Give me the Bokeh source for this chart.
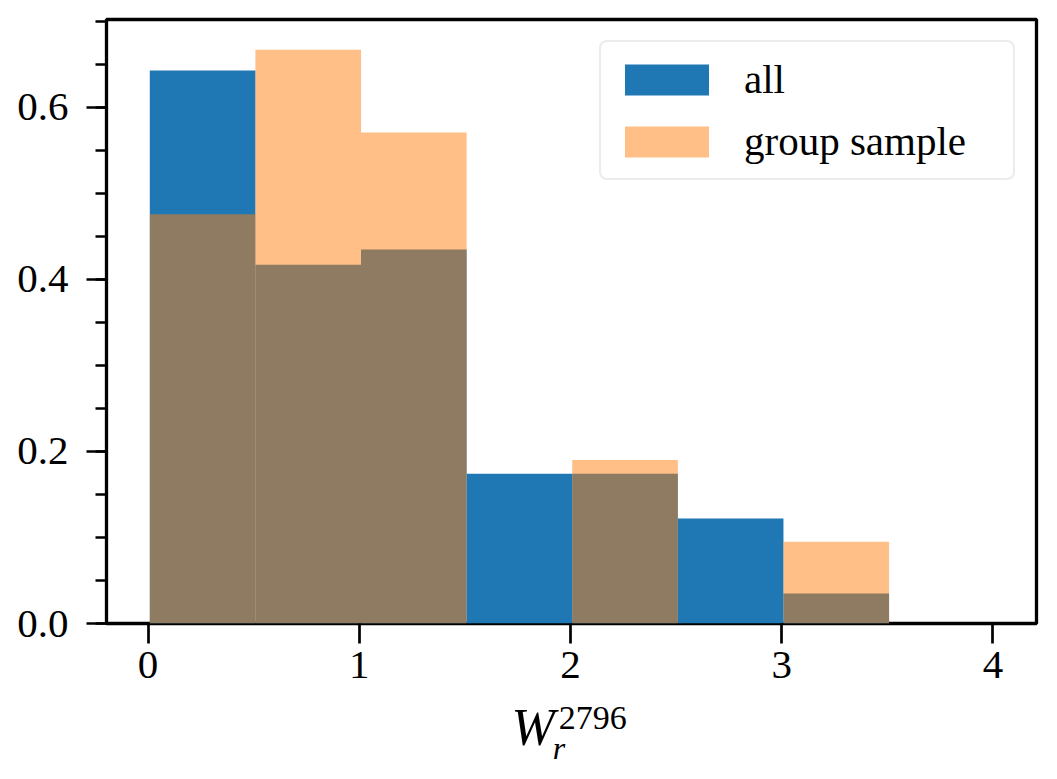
from bokeh.plotting import figure
from bokeh.layouts import column
from bokeh.models import (Range1d, Legend, LegendItem, FixedTicker,
                          SingleIntervalTicker, PrintfTickFormatter, ColumnDataSource)
from bokeh.core.properties import value
from bokeh.embed import file_html
from bokeh.resources import INLINE

# ---- data (density-normalised) ----
bin_edges = [0.008, 0.508, 1.008, 1.508, 2.008, 2.508, 3.008, 3.508]
all_density = [0.643, 0.417, 0.435, 0.174, 0.174, 0.122, 0.035]
group_density = [0.476, 0.667, 0.571, 0.0, 0.190, 0.0, 0.095]
x_ticks = [0, 1, 2, 3, 4]
series_labels = ["all", "group sample"]

FONT = "Liberation Serif"
FS = "41px"
X_RANGE = (-0.197, 4.206)
MAIN_H = 697
TOTAL_H = 771

p = figure(width=1049, height=MAIN_H, output_backend="svg", toolbar_location=None,
           title=None,
           x_range=Range1d(*X_RANGE), y_range=Range1d(0, 0.7023),
           min_border_left=106, min_border_right=13, min_border_top=19,
           min_border_bottom=MAIN_H - 623)

src_all = ColumnDataSource(dict(left=bin_edges[:-1], right=bin_edges[1:],
                                top=all_density, bottom=[0] * len(all_density)))
src_grp = ColumnDataSource(dict(left=bin_edges[:-1], right=bin_edges[1:],
                                top=group_density, bottom=[0] * len(group_density)))

r_all = p.quad(left="left", right="right", top="top", bottom="bottom", source=src_all,
               fill_color="#1f77b4", fill_alpha=1.0, line_color=None)
r_grp = p.quad(left="left", right="right", top="top", bottom="bottom", source=src_grp,
               fill_color="#ff7f0e", fill_alpha=0.5, line_color=None)

# frame / grid
p.outline_line_color = "black"
p.outline_line_width = 3.3
p.outline_line_alpha = 1.0
p.xgrid.visible = False
p.ygrid.visible = False
p.background_fill_color = "white"
p.border_fill_color = "white"

# axes
for ax in (p.xaxis[0], p.yaxis[0]):
    ax.axis_line_color = None
    ax.major_tick_line_color = "black"
    ax.major_tick_line_width = 2.7
    ax.major_tick_out = 20
    ax.major_tick_in = 0
    ax.minor_tick_line_color = "black"
    ax.minor_tick_line_width = 2.4
    ax.minor_tick_out = 11
    ax.minor_tick_in = 0
    ax.major_label_text_font = FONT
    ax.major_label_text_font_size = FS
    ax.major_label_text_color = "black"

p.xaxis[0].ticker = FixedTicker(ticks=x_ticks)
p.xaxis[0].minor_tick_line_color = None
p.xaxis[0].formatter = PrintfTickFormatter(format="%d")
p.xaxis[0].major_label_standoff = 8

p.yaxis[0].ticker = SingleIntervalTicker(interval=0.2, num_minor_ticks=4)
p.yaxis[0].formatter = PrintfTickFormatter(format="%.1f")
p.yaxis[0].major_label_standoff = 18

# legend
legend = Legend(items=[LegendItem(label=series_labels[0], renderers=[r_all]),
                       LegendItem(label=series_labels[1], renderers=[r_grp])],
                location="top_right")
legend.border_line_color = "#d9d9d9"
legend.border_line_width = 2.5
legend.border_radius = 8
legend.background_fill_color = "white"
legend.background_fill_alpha = 1.0
legend.padding = 13
legend.margin = 21
legend.spacing = 14
legend.glyph_width = 105
legend.glyph_height = 39
legend.label_standoff = 25
legend.label_width = 256
legend.label_text_font = FONT
legend.label_text_font_size = FS
legend.label_text_color = "black"
p.add_layout(legend)

# ---- x-axis label  W_r^{2796}  (strip below the plot, same x scale) ----
p2 = figure(width=1049, height=TOTAL_H - MAIN_H, output_backend="svg",
            toolbar_location=None, title=None,
            x_range=Range1d(*X_RANGE), y_range=Range1d(TOTAL_H, MAIN_H),
            x_axis_location=None, y_axis_location=None,
            min_border_left=106, min_border_right=13, min_border_top=0,
            min_border_bottom=0)
p2.outline_line_color = None
p2.xgrid.visible = False
p2.ygrid.visible = False
p2.background_fill_color = "white"
p2.border_fill_color = "white"

p2.text(x=[1.720], y=[727], text=["W"], text_font=value(FONT), text_font_style="italic",
        text_font_size="52px", text_baseline="alphabetic", text_color="black")
p2.text(x=[1.944], y=[717], text=["2796"], text_font=value(FONT),
        text_font_size="34px", text_baseline="alphabetic", text_color="black")
p2.text(x=[1.916], y=[747], text=["r"], text_font=value(FONT), text_font_style="italic",
        text_font_size="32px", text_baseline="alphabetic", text_color="black")

layout = column(p, p2, spacing=0)
open("out.html", "w").write(file_html(layout, INLINE))
